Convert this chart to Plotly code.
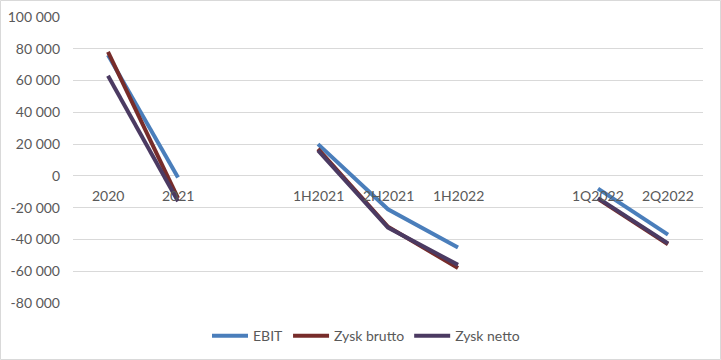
import plotly.graph_objects as go

categories = ["2020", "2021", "", "1H2021", "2H2021", "1H2022", "", "1Q2022", "2Q2022"]
ebit = [76000, -1000, None, 20000, -21000, -45000, None, -8000, -37000]
zysk_brutto = [78000, -14000, None, 17000, -32000, -58000, None, -14500, -43000]
zysk_netto = [63000, -16000, None, 16000, -32500, -56000, None, -14000, -42500]
y_ticks = [-80000, -60000, -40000, -20000, 0, 20000, 40000, 60000, 80000, 100000]
y_tick_labels = ["-80 000", "-60 000", "-40 000", "-20 000", "0", "20 000", "40 000", "60 000", "80 000", "100 000"]

series = [
    ("EBIT", ebit, "#4A7EBB"),
    ("Zysk brutto", zysk_brutto, "#772C2A"),
    ("Zysk netto", zysk_netto, "#4B3A62"),
]

xs = list(range(len(categories)))
fig = go.Figure()
for name, vals, color in series:
    fig.add_trace(go.Scatter(x=xs, y=vals, mode="lines", name=name,
                             line=dict(color=color, width=4), connectgaps=False))

font_family = "Lato, Open Sans, sans-serif"
txt_color = "#595959"
fs = 14
for i, c in enumerate(categories):
    if c:
        fig.add_annotation(x=i, y=0, xref="x", yref="y", text=c, showarrow=False,
                           yanchor="middle", yshift=-20,
                           font=dict(family=font_family, size=fs, color=txt_color))

fig.update_layout(
    width=721, height=360,
    margin=dict(l=73, r=18, t=17, b=57, autoexpand=False),
    paper_bgcolor="white", plot_bgcolor="white",
    font=dict(family=font_family, size=fs, color=txt_color),
    showlegend=True,
    legend=dict(orientation="h", x=(366 - 73) / 630, xanchor="center", y=-0.06, yanchor="top",
                font=dict(size=fs, color=txt_color), itemwidth=36, tracegroupgap=0),
    xaxis=dict(range=[-0.5, len(categories) - 0.5], showticklabels=False, showgrid=False,
               zeroline=False, showline=False, fixedrange=True),
    yaxis=dict(range=[-80000, 100000], tickvals=y_ticks, ticktext=y_tick_labels,
               showgrid=True, gridcolor="#D9D9D9", gridwidth=1, zeroline=False,
               showline=False, ticks="", ticklabelstandoff=12),
    shapes=[dict(type="rect", xref="paper", yref="paper",
                 x0=-72.5 / 630, x1=(721 - 73.5) / 630, y0=-(360 - 303 - 0.5) / 286, y1=1 + 16.5 / 286,
                 line=dict(color="#D9D9D9", width=1), fillcolor="rgba(0,0,0,0)", layer="below")],
)

fig.write_html("out.html", config={"displayModeBar": False},
               post_script="document.body.style.margin='0';document.body.style.overflow='hidden';")
